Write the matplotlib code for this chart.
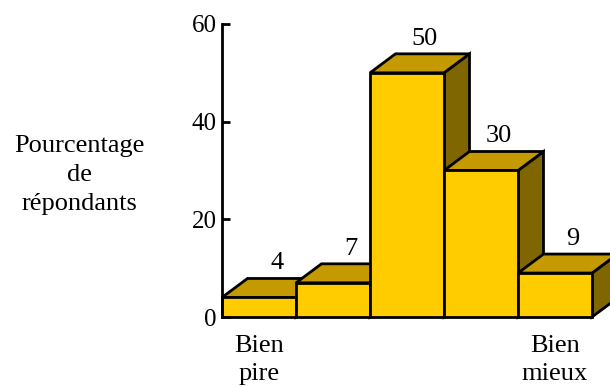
import matplotlib
matplotlib.use("Agg")
import matplotlib.pyplot as plt
from matplotlib.patches import Polygon

values = [4, 7, 50, 30, 9]
value_labels = ["4", "7", "50", "30", "9"]
end_labels = {0: "Bien\npire", 4: "Bien\nmieux"}
y_ticks = [0, 20, 40, 60]
y_label = "Pourcentage\nde\nrépondants"

W, H = 610, 387
fig = plt.figure(figsize=(W / 100, H / 100), dpi=100)
plt.rcParams['font.family'] = ['Liberation Serif', 'DejaVu Serif']

# axes in pixel geometry
left_px, bottom_px, top_px, right_px = 222, 317, 24, 610
ax = fig.add_axes([left_px / W, (H - bottom_px) / H, (right_px - left_px) / W, (bottom_px - top_px) / H])
bar_px = 74.0
ax.set_xlim(0, (right_px - left_px) / bar_px)
ax.set_ylim(0, 60)

px_per_unit = (bottom_px - top_px) / 60
dx = 25.5 / bar_px
dy = 19.0 / px_per_unit

front_c = "#FFCC00"
top_c = "#C49A00"
side_c = "#806600"
lw = 2.0

for i, v in enumerate(values):
    x0, x1 = i, i + 1
    side = Polygon([(x1, 0), (x1 + dx, dy), (x1 + dx, v + dy), (x1, v)], closed=True,
                   facecolor=side_c, edgecolor="black", lw=lw, clip_on=False, joinstyle="miter")
    top = Polygon([(x0, v), (x0 + dx, v + dy), (x1 + dx, v + dy), (x1, v)], closed=True,
                  facecolor=top_c, edgecolor="black", lw=lw, clip_on=False, joinstyle="miter")
    front = Polygon([(x0, 0), (x0, v), (x1, v), (x1, 0)], closed=True,
                    facecolor=front_c, edgecolor="black", lw=lw, clip_on=False, joinstyle="miter")
    for p in (side, top, front):
        ax.add_patch(p)
    ax.text(x0 + 0.5 + 0.7 * dx, v + dy + 9 / px_per_unit, value_labels[i], ha="center",
            va="baseline", fontsize=19)

for i, lab in end_labels.items():
    ax.text(i + 0.5, -3.6, lab, ha="center", va="top", fontsize=19, linespacing=1.4)

for s in ["top", "right", "bottom"]:
    ax.spines[s].set_visible(False)
ax.spines["left"].set_linewidth(2)
ax.set_xticks([])
ax.set_yticks(y_ticks)
ax.tick_params(axis="y", direction="in", length=6, width=2, labelsize=18, pad=4)
ax.set_zorder(1)

fig.text(79 / W, 1 - 175 / H, y_label, ha="center", va="center", fontsize=19, linespacing=1.4)

fig.savefig("out.png", dpi=100)
